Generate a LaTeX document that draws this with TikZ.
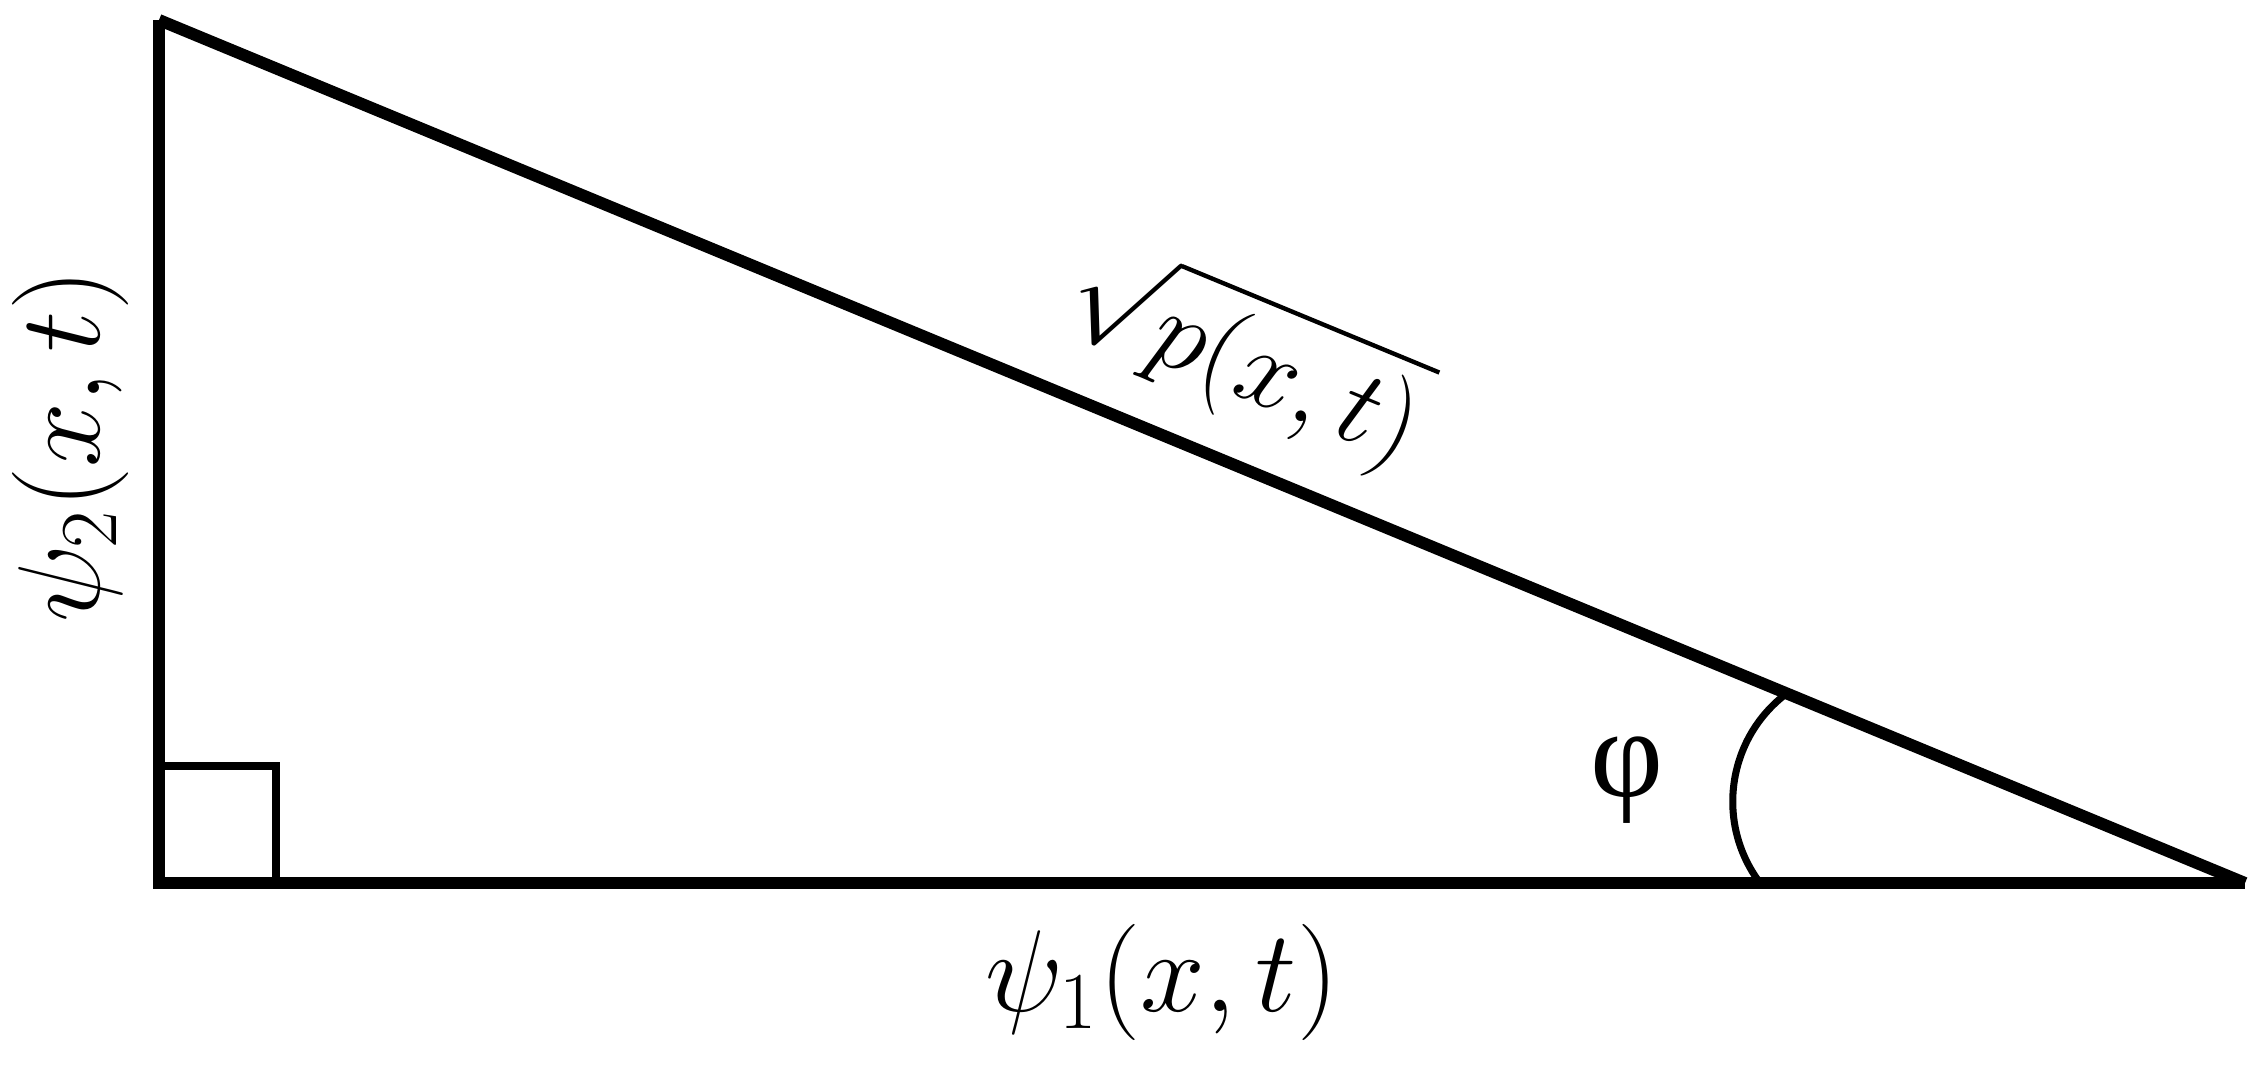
\documentclass[tikz,border=0pt]{standalone}
\usepackage{amsmath, amssymb}
\usepackage{fontspec}
\newfontfamily\phifont{Liberation Serif}
\usepackage{tikz}
\usetikzlibrary{positioning, calc}

\begin{document}
\begin{tikzpicture}[
      side/.style={line width=3.4pt, line cap=butt},
      marker/.style={line width=2.5pt},
      anglearc/.style={line width=2pt},
      lbl/.style={inner sep=0pt, scale=1.33, font=\fontsize{25}{30}\selectfont},
      anglelbl/.style={inner sep=0pt, font=\fontsize{36}{42}\selectfont\phifont}
    ]
      % fix the page to the reference size
      \useasboundingbox (0,0) rectangle (22.67,10.67);

      % corners of the triangle
      \coordinate (top) at (1.59,10.47);
      \coordinate (corner) at (1.59,1.84);
      \coordinate (tip) at (22.45,1.84);

      % legs and hypotenuse
      \draw[side, line join=miter] (top) -- (corner) -- (tip);
      \draw[side] (top) -- (tip);

      % right angle marker
      \draw[marker] ([yshift=1.17cm]corner) -| ([xshift=1.17cm]corner);

      % angle mark at the tip, bulging away from it
      \coordinate (arcbot) at ([xshift=-4.85cm]tip);
      \coordinate (arctop) at ($(tip)!4.96cm!(top)$);
      \draw[anglearc] (arcbot) to[bend left=45] (arctop);
      \node[anglelbl] (phi) at (16.27,2.87) {φ};

      % side labels
      \node[lbl] (psione) at (11.62,0.85) {$\psi_1(x,t)$};
      \node[lbl, rotate=90] (psitwo) at (0.70,6.21) {$\psi_2(x,t)$};
      \node[lbl, scale=0.94, rotate=-22.47, anchor=north east] (rootp) at (14.43,7.01) {$\sqrt{\smash[b]{p(x,t)}}$};
    \end{tikzpicture}
\end{document}
